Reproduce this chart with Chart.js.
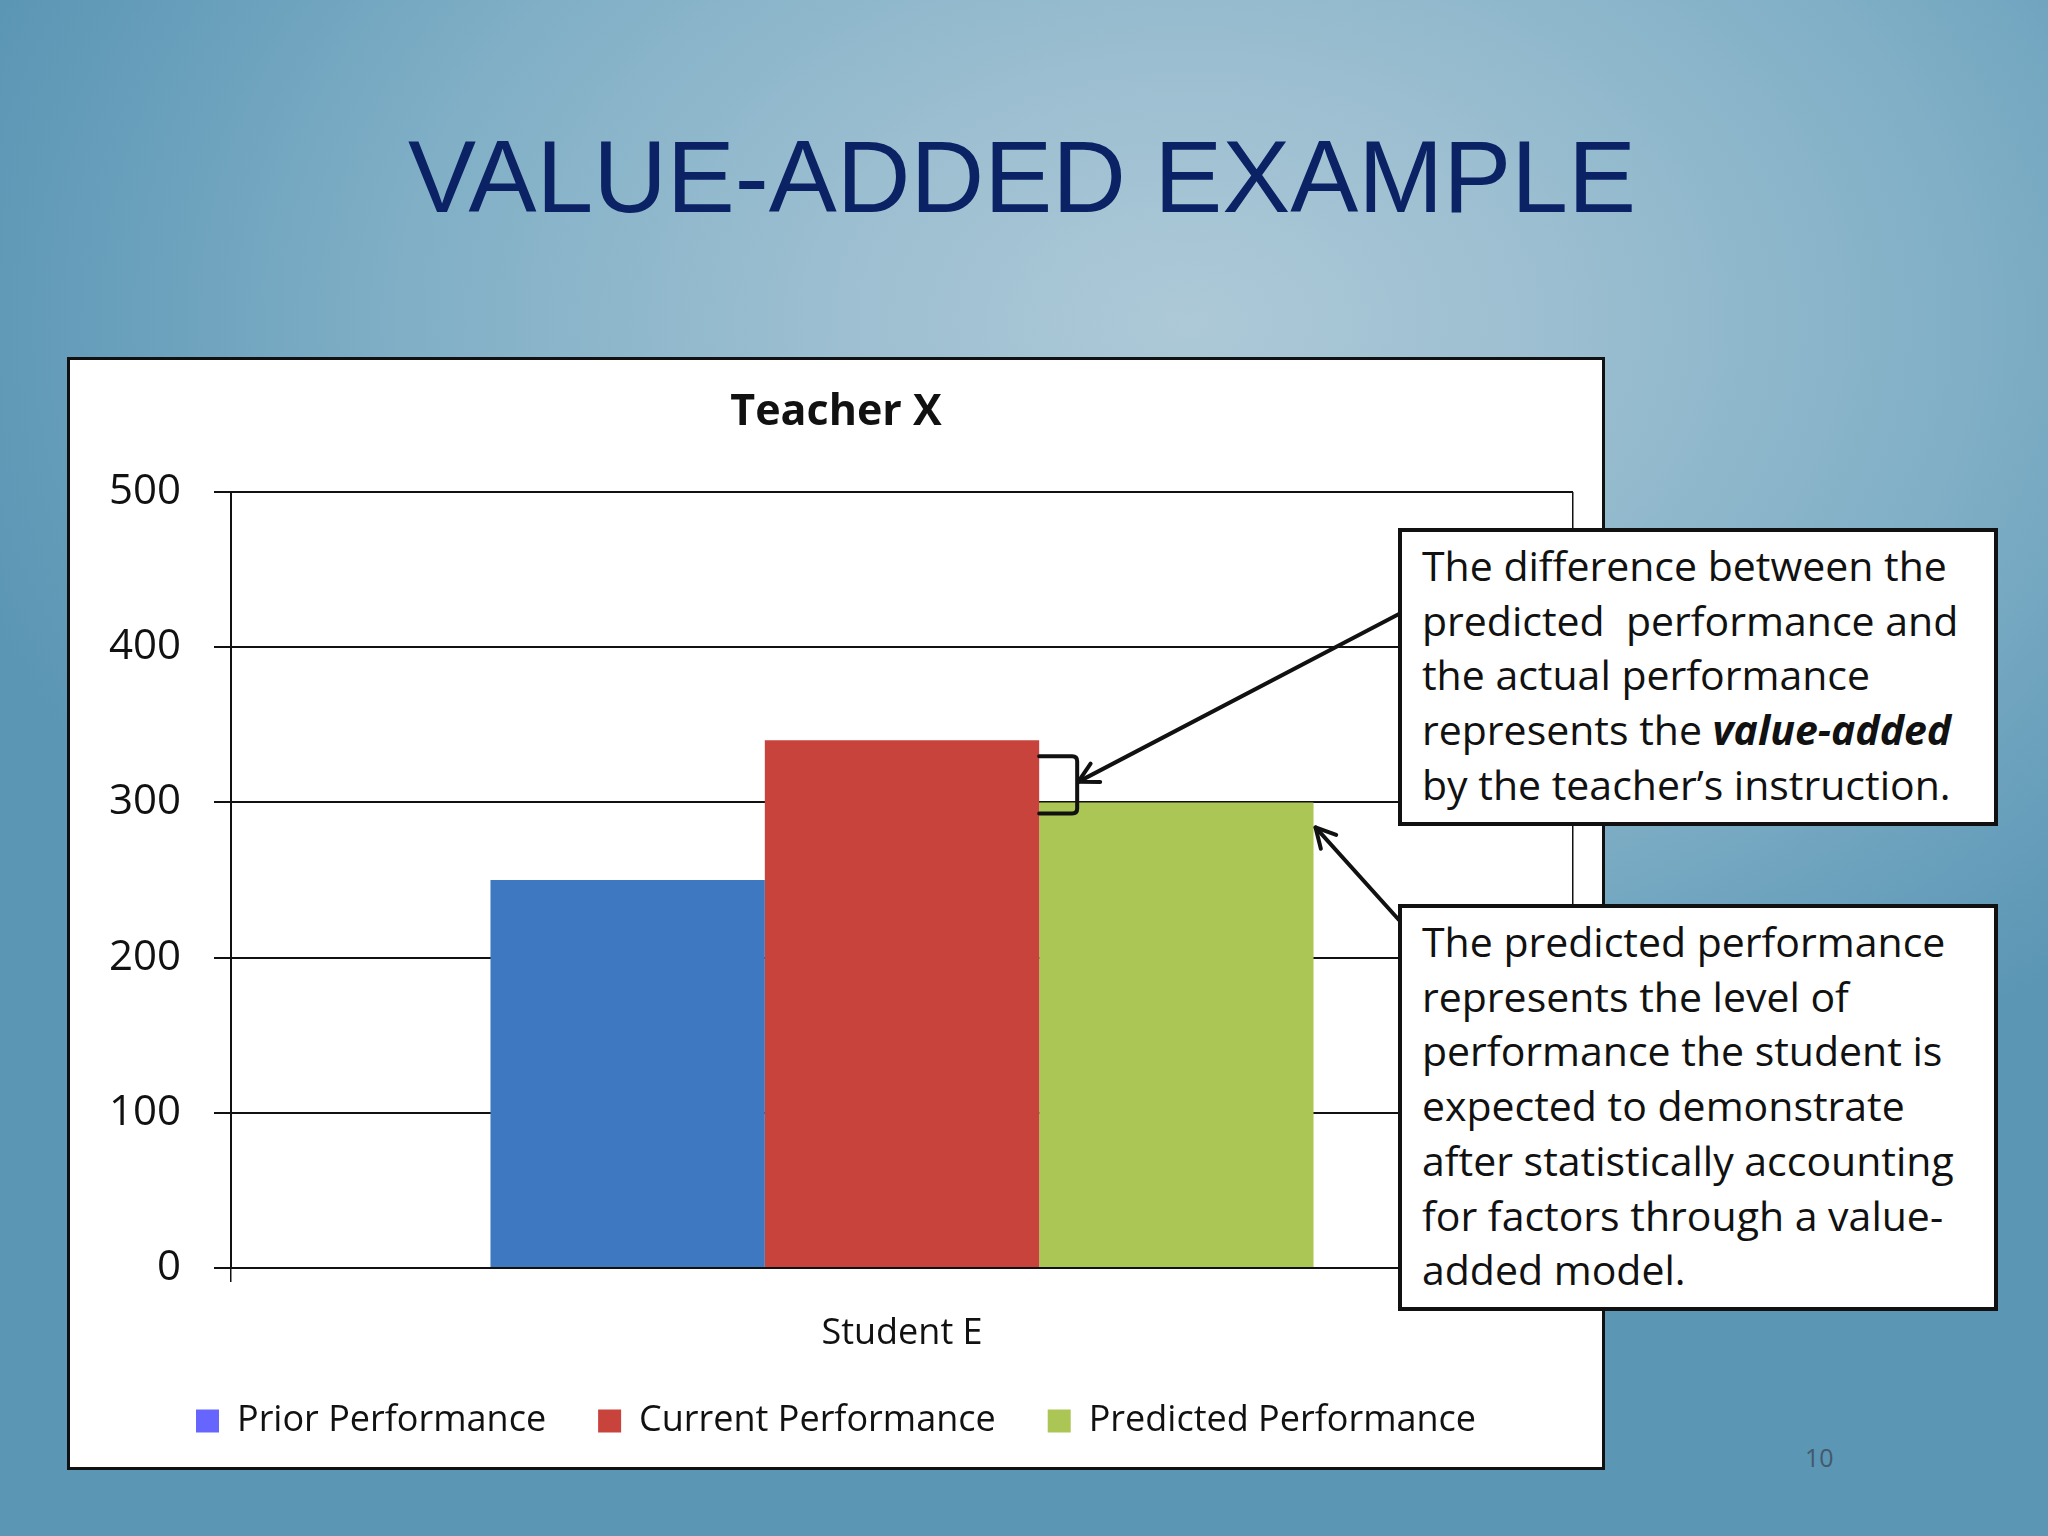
<!DOCTYPE html>
<html>
<head>
<meta charset="utf-8">
<script src="https://cdn.jsdelivr.net/npm/chart.js@4.4.1/dist/chart.umd.min.js"></script>
<style>
html,body{margin:0;padding:0;width:2048px;height:1536px;overflow:hidden;}
body{position:relative;background-color:#5f99b6;
  background-image:radial-gradient(ellipse 62% 58% at 58% 21%, #adc9d8 0%, #9bbed0 30%, #80afc6 62%, #659dba 88%, #5b96b4 100%);
  font-family:'Open Sans',sans-serif;}
#slideTitle{position:absolute;left:0;top:127px;width:2044px;text-align:center;
  font-family:'Liberation Sans',Arial,sans-serif;font-size:102px;line-height:101px;color:#0b2265;white-space:nowrap;}
#chartBox{position:absolute;left:67px;top:357px;width:1538px;height:1113px;box-sizing:border-box;
  border:3px solid #111;background:#fff;}
#chartBox canvas{display:block;}
.callout{position:absolute;left:1398px;width:600px;box-sizing:border-box;border:4px solid #111;background:#fff;
  font-family:'Open Sans',sans-serif;font-size:41px;line-height:54.7px;color:#111;padding:6px 0 0 20px;white-space:nowrap;}
#callout1{top:528px;height:298px;}
#callout2{top:904px;height:407px;}
#pageNum{position:absolute;left:1805px;top:1445px;font-family:'Open Sans',sans-serif;font-size:25px;line-height:25px;color:#44596a;}
</style>
</head>
<body>
<div id="slideTitle">VALUE-ADDED EXAMPLE</div>
<div id="chartBox"><canvas id="chart" width="1532" height="1107" style="width:1532px;height:1107px"></canvas></div>
<div class="callout" id="callout1">The difference between the<br>predicted&nbsp; performance and<br>the actual performance<br>represents the <b><i>value-added</i></b><br>by the teacher’s instruction.</div>
<div class="callout" id="callout2">The predicted performance<br>represents the level of<br>performance the student is<br>expected to demonstrate<br>after statistically accounting<br>for factors through a value-<br>added model.</div>
<div id="pageNum">10</div>
<script>
// ---- data ----
const chartTitle = 'Teacher X';
const categories = ['Student E'];
const seriesNames = ['Prior Performance', 'Current Performance', 'Predicted Performance'];
const priorPerformance = [250];
const currentPerformance = [340];
const predictedPerformance = [300];
const yMin = 0;
const yMax = 500;
const yStep = 100;
const seriesColors = ['#3e78c0', '#c8433b', '#abc654'];
const legendColors = ['#6666ff', '#c8433b', '#abc654'];

const seriesValues = [priorPerformance, currentPerformance, predictedPerformance];
const INK = '#111';

function drawArrow(c, x0, y0, x1, y1) {
  c.beginPath(); c.moveTo(x0, y0); c.lineTo(x1, y1); c.stroke();
  const a = Math.atan2(y0 - y1, x0 - x1), L = 22, s = 28 * Math.PI / 180;
  c.beginPath();
  c.moveTo(x1 + L * Math.cos(a + s), y1 + L * Math.sin(a + s));
  c.lineTo(x1, y1);
  c.lineTo(x1 + L * Math.cos(a - s), y1 + L * Math.sin(a - s));
  c.stroke();
}

const calloutPlugin = {
  id: 'callouts',
  afterDraw(chart) {
    const c = chart.ctx, ys = chart.scales.y;
    const cur = chart.getDatasetMeta(1).data[0];
    const pred = chart.getDatasetMeta(2).data[0];
    const cr = chart.canvas.getBoundingClientRect();
    const b1 = document.getElementById('callout1').getBoundingClientRect();
    const b2 = document.getElementById('callout2').getBoundingClientRect();
    c.save();
    c.strokeStyle = INK; c.lineWidth = 4; c.lineCap = 'round'; c.lineJoin = 'round';
    // bracket between current and predicted
    const bx0 = cur.x + cur.width / 2;
    const bx1 = bx0 + 38;
    const by0 = ys.getPixelForValue(currentPerformance[0]) + 16;
    const by1 = ys.getPixelForValue(predictedPerformance[0]) + 11;
    c.beginPath();
    c.moveTo(bx0, by0); c.lineTo(bx1 - 5, by0);
    c.quadraticCurveTo(bx1, by0, bx1, by0 + 5);
    c.lineTo(bx1, by1 - 5);
    c.quadraticCurveTo(bx1, by1, bx1 - 5, by1);
    c.lineTo(bx0, by1);
    c.stroke();
    drawArrow(c, b1.left - cr.left + 1, b1.top - cr.top + 86, bx1 + 1, (by0 + by1) / 2 - 3);
    const gx = pred.x + pred.width / 2;
    drawArrow(c, b2.left - cr.left + 1, b2.top - cr.top + 16, gx + 2, ys.getPixelForValue(predictedPerformance[0]) + 25);
    c.restore();
  }
};

const ctx = document.getElementById('chart').getContext('2d');
new Chart(ctx, {
  type: 'bar',
  data: {
    labels: categories,
    datasets: seriesNames.map((name, i) => ({
      label: name,
      data: seriesValues[i],
      backgroundColor: seriesColors[i],
      borderWidth: 0,
      categoryPercentage: 0.6133,
      barPercentage: 1.0,
      yAxisID: 'y'
    }))
  },
  options: {
    responsive: false,
    animation: false,
    devicePixelRatio: 1,
    layout: { padding: { left: 0, right: 0, top: 0, bottom: 18 } },
    plugins: {
      title: {
        display: true, text: chartTitle, color: INK,
        font: { family: 'Open Sans', size: 43, weight: 'bold' },
        padding: { top: 27.2, bottom: 53.2 }
      },
      legend: {
        position: 'bottom',
        labels: {
          color: INK,
          font: { family: 'Open Sans', size: 36 },
          boxWidth: 23, boxHeight: 23, padding: 52,
          generateLabels(chart) {
            const items = Chart.defaults.plugins.legend.labels.generateLabels(chart);
            items.forEach((it, i) => { it.fillStyle = legendColors[i]; it.strokeStyle = legendColors[i]; it.lineWidth = 0; });
            return items;
          }
        }
      },
      tooltip: { enabled: false }
    },
    scales: {
      x: {
        grid: { display: true, offset: true, drawOnChartArea: true, color: INK, lineWidth: 1.5, tickLength: 14 },
        border: { display: true, color: INK, width: 2 },
        ticks: { color: INK, font: { family: 'Open Sans', size: 36 }, padding: 30 },
        afterFit(s) { s.height = 83; s._computeLabelArea = () => undefined; }
      },
      y: {
        min: yMin, max: yMax,
        ticks: { stepSize: yStep, color: INK, font: { family: 'Open Sans', size: 42 }, padding: 33 },
        grid: { color: INK, lineWidth: 2, tickLength: 17 },
        border: { display: true, color: INK, width: 2 },
        afterFit(s) { s.width = 161; }
      },
      spacer: {
        type: 'linear', position: 'right',
        grid: { display: false, drawTicks: false },
        border: { display: false },
        ticks: { display: false },
        afterFit(s) { s.width = 29; }
      }
    }
  },
  plugins: [calloutPlugin]
});
</script>
</body>
</html>
